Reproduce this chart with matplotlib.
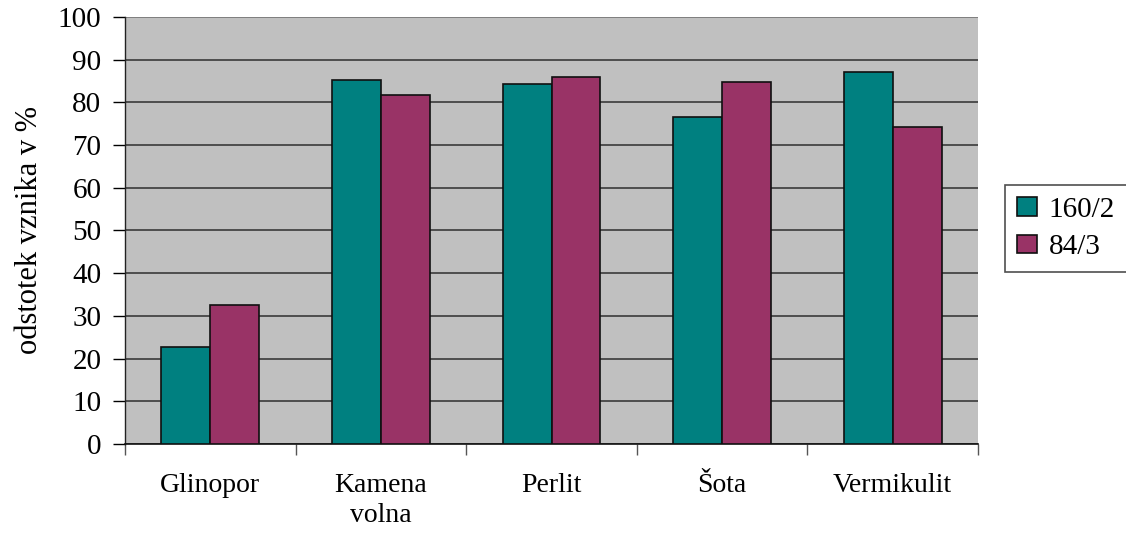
import matplotlib
matplotlib.use("Agg")
import matplotlib.pyplot as plt
import numpy as np

categories = ["Glinopor", "Kamena\nvolna", "Perlit", "Šota", "Vermikulit"]
series_names = ["160/2", "84/3"]
values_160_2 = [22.7, 85.2, 84.3, 76.6, 87.1]
values_84_3 = [32.5, 81.7, 86.0, 84.8, 74.2]
y_ticks = [0, 10, 20, 30, 40, 50, 60, 70, 80, 90, 100]

plt.rcParams['font.family'] = ['Liberation Serif', 'DejaVu Serif']

fig = plt.figure(figsize=(11.26, 5.35), dpi=100)
ax = fig.add_axes([125/1126, 1-444/535, (978-125)/1126, (444-17)/535])
ax.set_facecolor('#C0C0C0')

x = np.arange(len(categories))
w = 0.287
ax.bar(x - w/2, values_160_2, w, color='#008080', edgecolor='#101010', linewidth=1.2, label=series_names[0], zorder=3)
ax.bar(x + w/2, values_84_3, w, color='#993366', edgecolor='#101010', linewidth=1.2, label=series_names[1], zorder=3)

ax.set_xlim(-0.5, len(categories) - 0.5)
ax.set_ylim(0, 100)
ax.set_yticks(y_ticks)
ax.tick_params(axis='y', labelsize=21, length=9, width=1, direction='out', pad=8)
ax.yaxis.grid(True, color='#3a3a3a', linewidth=1.2, zorder=1)
ax.set_axisbelow(True)

ax.set_xticks(x)
ax.set_xticklabels(categories, fontsize=20, linespacing=1.25)
ax.tick_params(axis='x', length=0, pad=21)
ax.set_xticks(np.arange(len(categories) + 1) - 0.5, minor=True)
ax.tick_params(axis='x', which='minor', length=8, width=1, color='#555555', direction='out')

for s in ['top', 'right']:
    ax.spines[s].set_visible(False)
ax.spines['left'].set_color('#222222')
ax.spines['bottom'].set_color('#111111')
ax.spines['left'].set_linewidth(1.0)
ax.spines['bottom'].set_linewidth(1.2)
ax.axhline(100, color='#8a8a8a', linewidth=1.2, zorder=2)

ax.set_ylabel("odstotek vznika v %", fontsize=22, labelpad=10)

leg = fig.legend(loc='upper left', bbox_to_anchor=(1005/1126, 1-185/535), fontsize=21,
                 frameon=True, fancybox=False, edgecolor='#222222', handlelength=0.7,
                 handleheight=0.6, handletextpad=0.4, borderpad=0.4, labelspacing=0.4,
                 borderaxespad=0)
leg.get_frame().set_linewidth(1.2)

fig.savefig("out.png", dpi=100)
